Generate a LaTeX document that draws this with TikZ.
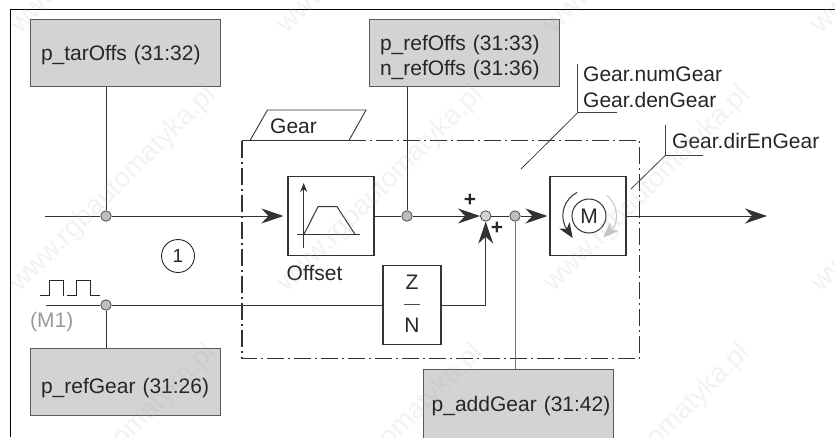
\documentclass[tikz,border=0pt]{standalone}
\usepackage{fontspec}
\setmainfont{Liberation Sans}
\usetikzlibrary{arrows.meta}
\definecolor{paramgray}{HTML}{D1D3D4}
\definecolor{junctiongray}{HTML}{BCBEC0}
\definecolor{linedark}{HTML}{333333}
\definecolor{markpink}{HTML}{C9A9A0}
\tikzset{
  paramnode/.style={draw=black!65,fill=paramgray,line width=1pt,minimum width=190pt,minimum height=67pt,
    inner sep=0pt,text width=190pt,align=left,text depth=0pt},
  plainbox/.style={draw=linedark,line width=1.1pt,fill=white,inner sep=0pt},
  junction/.style={circle,draw=black!70,fill=junctiongray,line width=0.8pt,minimum size=10.5pt,inner sep=0pt},
  signal/.style={draw=linedark,line width=1pt},
  flow/.style={signal,-{Stealth[length=22pt,width=15pt,inset=7pt]}},
  leader/.style={draw=black!75,line width=0.8pt},
  caption/.style={inner sep=0pt,anchor=west},
  webmark/.style={text=markpink,opacity=0.17,rotate=45,anchor=west,inner sep=0pt,font=\fontsize{27.7}{30}\selectfont},
}
\begin{document}
\begin{tikzpicture}[x=1pt,y=-1pt,>=stealth,font=\fontsize{21}{25}\selectfont,text=black!85]
  \path[use as bounding box,clip] (0,0) rectangle (835,437);
  % outer frame
  \draw[line width=1.1pt] (10.5,437) -- (10.5,9.5) -- (835,9.5);
  % parameter boxes
  \node[paramnode,text height=16pt] (tarOffs) at (125,52.5) {\hspace*{11pt}p\_tarOffs (31:32)};
  \node[paramnode,text height=20pt,text depth=25pt] (refOffs) at (464,52.5) {\hspace*{11pt}p\_refOffs (31:33)\\\hspace*{11pt}n\_refOffs (31:36)};
  \node[paramnode,text height=24pt] (refGear) at (125,381.5) {\hspace*{11pt}p\_refGear (31:26)};
  \node[paramnode,minimum height=76pt,text height=8pt] (addGear) at (518,407) {\hspace*{8.7pt}p\_addGear (31:42)};
  % gear frame
  \draw[linedark,line width=1.1pt,dash pattern=on 17pt off 4pt on 2pt off 4pt] (242,140.5) rectangle (639.5,358.5);
  \draw[black!80,line width=0.9pt,fill=white] (250,140.5) -- (267.5,110) -- (366,110) -- (349,140.5) -- cycle;
  \node[caption] (gearName) at (270,126) {Gear};
  % blocks
  \node[plainbox,minimum width=86pt,minimum height=79.5pt] (offset) at (331,216) {};
  \node[caption] (offsetName) at (286.5,273) {Offset};
  \node[plainbox,minimum width=58pt,minimum height=79pt] (ratio) at (412,305) {};
  \node[inner sep=0pt] (zLabel) at (412,282) {Z};
  \node[inner sep=0pt] (nLabel) at (412,325) {N};
  \node[plainbox,minimum width=76pt,minimum height=79pt] (motor) at (588,216) {};
  % junctions
  \node[junction] (jTar) at (106,216) {};
  \node[junction] (jRef) at (407,216) {};
  \node[junction,fill=paramgray] (sum) at (485.7,216) {};
  \node[junction] (jAdd) at (515,216) {};
  \node[junction] (jGear) at (106,305) {};
  % signal lines
  \coordinate (inTar) at (45,216);
  \coordinate (inGear) at (46,305);
  \coordinate (outMotor) at (767,216);
  \coordinate (ratioBend) at (sum |- ratio);
  \draw[signal] (inTar) -- (jTar);
  \draw[flow,shorten >=4pt] (jTar) -- (offset);
  \draw[signal] (offset) -- (jRef);
  \draw[flow] (jRef) -- (sum);
  \draw[signal] (sum) -- (jAdd);
  \draw[flow,shorten >=2pt] (jAdd) -- (motor);
  \draw[flow] (motor) -- (outMotor);
  \draw[signal] (inGear) -- (jGear);
  \draw[signal] (jGear) -- (ratio);
  \draw[flow] (ratio.east) -- (ratioBend) -- (sum);
  % parameter links
  \draw[signal] (tarOffs.south -| jTar) -- (jTar);
  \draw[signal] (refOffs.south -| jRef) -- (jRef);
  \draw[signal] (refGear.north -| jGear) -- (jGear);
  \draw[signal,draw=black!55] (addGear.north -| jAdd) -- (jAdd);
  % signs and ratio bar
  \node[inner sep=0pt,font=\fontsize{21}{25}\bfseries\selectfont] (plusTop) at (470,200) {+};
  \node[inner sep=0pt,font=\fontsize{21}{25}\bfseries\selectfont] (plusLow) at (497,228) {+};
  \draw[line width=1pt,black!70] (404,304) -- (420,304);
  % offset icon
  \draw[linedark,line width=1pt,-{Stealth[length=9pt,width=7pt]}] (303.7,248) -- (303.7,183);
  \draw[linedark,line width=1pt] (297,234.3) -- (360,234.3);
  \draw[linedark,line width=1pt] (304,234.3) -- (318,206.7) -- (337,206.7) -- (355,234.3);
  % motor icon
  \node[circle,draw=linedark,line width=1pt,minimum size=34pt,inner sep=0pt] (motorM) at (589,216) {M};
  \draw[linedark,line width=1pt,-{Stealth[length=15pt,width=12pt,inset=4pt]}] (577,192.5) arc[start angle=243,end angle=156,radius=26] -- (572.7,238);
  \draw[black!22,line width=1pt,-{Stealth[length=15pt,width=12pt,inset=4pt]}] (606.7,195) arc[start angle=-50,end angle=22,radius=27.5] -- (603.3,237.3);
  % input marks
  \node[circle,draw=black!85,line width=0.9pt,minimum size=33pt,inner sep=0pt,font=\fontsize{19}{22}\selectfont] (noteOne) at (178,256) {1};
  \draw[black!85,line width=0.9pt] (40,295.7) -- (49,295.7) -- (49,280.7) -- (63,280.7) -- (63,295.7);
  \draw[black!85,line width=0.9pt] (66.7,295.7) -- (76,295.7) -- (76,280.7) -- (90,280.7) -- (90,295.7) -- (100,295.7);
  \node[caption,text=black!40] (encoderName) at (30,322) {(M1)};
  % leaders
  \coordinate (numTop) at (577.7,64);
  \coordinate (numKnee) at (577.7,112.7);
  \coordinate (numEnd) at (616.7,112.7);
  \coordinate (numFoot) at (521,169);
  \draw[leader] (numTop) -- (numKnee) -- (numEnd);
  \draw[leader] (numKnee) -- (numFoot);
  \node[caption] (numGear) at (583,74.5) {Gear.numGear};
  \node[caption] (denGear) at (583,100) {Gear.denGear};
  \coordinate (dirTop) at (665,125);
  \coordinate (dirKnee) at (665,155.7);
  \coordinate (dirEnd) at (703,155.7);
  \coordinate (dirFoot) at (631,189);
  \draw[leader] (dirTop) -- (dirKnee) -- (dirEnd);
  \draw[leader] (dirKnee) -- (dirFoot);
  \node[caption] (dirGear) at (672,141) {Gear.dirEnGear};
  % web marks
  \foreach \wx in {15,282,549,816}
    \foreach \wy in {30,288,546}
      \node[webmark] (mark-\wx-\wy) at (\wx,\wy) {www.rgbautomatyka.pl};
\end{tikzpicture}
\end{document}
